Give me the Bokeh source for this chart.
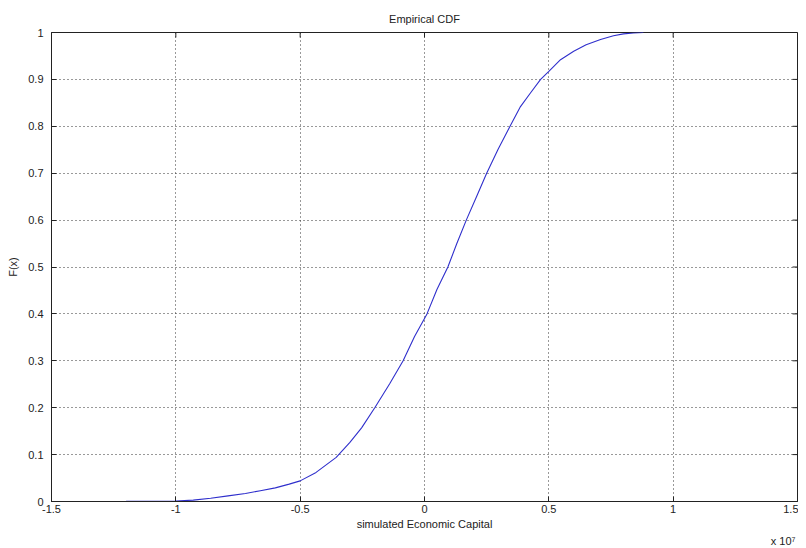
from bokeh.plotting import figure
from bokeh.models import Range1d, FixedTicker, Title
from bokeh.embed import file_html
from bokeh.resources import INLINE

# simulated Economic Capital (units of 1e7) and empirical CDF values
x_vals = [-1.42, -1.2, -1.0, -0.93, -0.86, -0.79, -0.72, -0.66, -0.6, -0.544, -0.5, -0.436,
          -0.355, -0.3, -0.253, -0.2, -0.14, -0.086, -0.04, 0.01, 0.05, 0.094, 0.13, 0.168,
          0.21, 0.25, 0.296, 0.344, 0.386, 0.426, 0.467, 0.5, 0.547, 0.6, 0.65, 0.708, 0.76,
          0.8, 0.84, 0.88]
f_vals = [0.0, 0.0003, 0.001, 0.003, 0.007, 0.012, 0.017, 0.023, 0.029, 0.037, 0.044, 0.062,
          0.094, 0.126, 0.157, 0.2, 0.251, 0.3, 0.352, 0.4, 0.452, 0.5, 0.55, 0.6,
          0.651, 0.7, 0.751, 0.8, 0.842, 0.871, 0.9, 0.917, 0.942, 0.96, 0.974, 0.985, 0.993,
          0.997, 0.999, 1.0]

x_ticks = [-1.5, -1, -0.5, 0, 0.5, 1, 1.5]
x_tick_labels = ["-1.5", "-1", "-0.5", "0", "0.5", "1", "1.5"]
y_ticks = [0, 0.1, 0.2, 0.3, 0.4, 0.5, 0.6, 0.7, 0.8, 0.9, 1]
y_tick_labels = ["0", "0.1", "0.2", "0.3", "0.4", "0.5", "0.6", "0.7", "0.8", "0.9", "1"]
x_scale_note = "x 10⁷"

FONT = "Liberation Sans"
INK = "#222222"
X0, X1, Y0, Y1 = -1.5, 1.5, 0.0, 1.0
W, H = 798, 546
BL, BR, BT, BB = 51, 1, 32, 44
TICK = 5  # inner tick length in px

p = figure(width=W, height=H, output_backend="svg", toolbar_location=None,
           x_range=Range1d(X0, X1), y_range=Range1d(Y0, Y1),
           min_border_left=BL, min_border_right=BR, min_border_top=BT, min_border_bottom=BB,
           title="Empirical CDF", x_axis_label="simulated Economic Capital", y_axis_label="F(x)")

p.background_fill_color = "white"
p.border_fill_color = "white"
p.outline_line_color = INK
p.outline_line_width = 1

p.title.align = "center"
p.title.vertical_align = "top"
p.title.text_font = FONT
p.title.text_font_size = "11px"
p.title.text_font_style = "normal"
p.title.text_color = INK
p.title.text_line_height = 1.0
p.title.padding = 0
p.title.standoff = 12

for ax in (p.xaxis[0], p.yaxis[0]):
    ax.axis_line_color = INK
    ax.major_tick_line_color = INK
    ax.major_tick_in = TICK
    ax.major_tick_out = 0
    ax.minor_tick_line_color = None
    ax.major_label_text_font = FONT
    ax.major_label_text_font_size = "11px"
    ax.major_label_text_color = INK
    ax.axis_label_text_font = FONT
    ax.axis_label_text_font_size = "11px"
    ax.axis_label_text_font_style = "normal"
    ax.axis_label_text_color = INK

p.xaxis[0].ticker = FixedTicker(ticks=x_ticks)
p.xaxis[0].major_label_overrides = dict(zip(x_ticks, x_tick_labels))
p.xaxis[0].major_label_standoff = 3
p.xaxis[0].axis_label_standoff = 2
p.yaxis[0].ticker = FixedTicker(ticks=y_ticks)
p.yaxis[0].major_label_overrides = dict(zip(y_ticks, y_tick_labels))
p.yaxis[0].major_label_standoff = 8
p.yaxis[0].axis_label_standoff = 6

p.xgrid.ticker = FixedTicker(ticks=x_ticks)
p.ygrid.ticker = FixedTicker(ticks=y_ticks)
for g in (p.xgrid[0], p.ygrid[0]):
    g.grid_line_color = "#333333"
    g.grid_line_dash = "1 3"
    g.grid_line_width = 1

# mirrored inner tick marks on the top and right edges (built from the tick lists)
frame_w = W - BL - BR
frame_h = H - BT - BB
dy = TICK * (Y1 - Y0) / frame_h
dx = TICK * (X1 - X0) / frame_w
p.segment(x0=x_ticks, y0=[Y1] * len(x_ticks), x1=x_ticks, y1=[Y1 - dy] * len(x_ticks),
          line_color=INK, line_width=1)
p.segment(x0=[X1] * len(y_ticks), y0=y_ticks, x1=[X1 - dx] * len(y_ticks), y1=y_ticks,
          line_color=INK, line_width=1)

p.line(x_vals, f_vals, line_color="#2f2fcc", line_width=1.1)

note = Title(text=x_scale_note, align="right", text_font=FONT, text_font_size="11px",
             text_font_style="normal", text_color=INK, standoff=0, offset=2)
p.add_layout(note, "below")

open("out.html", "w").write(file_html(p, INLINE))
